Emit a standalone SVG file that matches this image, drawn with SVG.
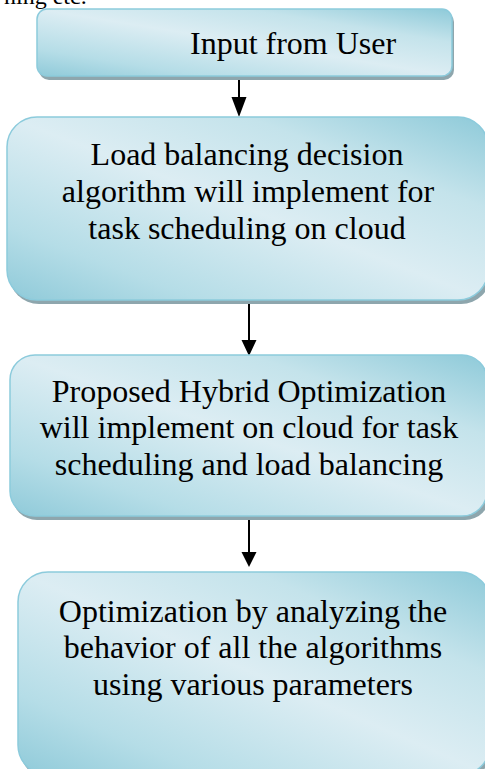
<svg xmlns="http://www.w3.org/2000/svg" width="485" height="769" viewBox="0 0 485 769">
<defs>
<linearGradient id="fill" x1="0" y1="1" x2="1" y2="0">
<stop offset="0" stop-color="#8fcad9"/>
<stop offset="0.2" stop-color="#b5dde7"/>
<stop offset="0.5" stop-color="#dcedf3"/>
<stop offset="0.75" stop-color="#c4e3eb"/>
<stop offset="1" stop-color="#8ecad9"/>
</linearGradient>
<marker id="arrow" viewBox="0 0 10 10" refX="10" refY="5" markerWidth="7.5" markerHeight="7.5" markerUnits="userSpaceOnUse" orient="auto">
<path d="M0,0 L10,5 L0,10 Z" fill="#000"/>
</marker>
</defs>
<style>
.box{fill:url(#fill);stroke:#8ccbdc;stroke-width:1.5}
.shadow{fill:#8ea6ad}
.t{font-family:"Liberation Serif","Times New Roman",serif;font-size:32px;fill:#000}
.c{text-anchor:middle}
.edge{stroke:#000;stroke-width:2;fill:none}
.head{fill:#000}
</style>
<text x="4" y="4" font-family="Liberation Serif, serif" font-size="24" fill="#000">ning etc.</text>
<g id="connectors">
<line class="edge" x1="239" y1="77" x2="239" y2="99"/>
<polygon class="head" points="231.5,97 246.5,97 239,117"/>
<line class="edge" x1="249" y1="303" x2="249" y2="342"/>
<polygon class="head" points="241.5,340 256.5,340 249,356"/>
<line class="edge" x1="249" y1="520" x2="249" y2="554"/>
<polygon class="head" points="241.5,552 256.5,552 249,567"/>
</g>
<g id="node1">
<rect class="shadow" x="39" y="12" width="415" height="68" rx="10"/>
<rect class="box" x="37" y="9" width="415" height="67" rx="10"/>
<text class="t" x="190" y="54">Input from User</text>
</g>
<g id="node2">
<rect class="shadow" x="9" y="121" width="482" height="183" rx="30"/>
<rect class="box" x="7" y="117" width="481" height="183" rx="30"/>
<text class="t c" x="247" y="165">Load balancing decision</text>
<text class="t c" x="248" y="202">algorithm will implement for</text>
<text class="t c" x="247" y="239">task scheduling on cloud</text>
</g>
<g id="node3">
<rect class="shadow" x="12" y="359" width="478" height="161" rx="25"/>
<rect class="box" x="10" y="355" width="477" height="161" rx="25"/>
<text class="t c" x="249" y="402">Proposed Hybrid Optimization</text>
<text class="t c" x="249" y="438">will implement on cloud for task</text>
<text class="t c" x="249" y="475">scheduling and load balancing</text>
</g>
<g id="node4">
<rect class="shadow" x="20" y="576" width="472" height="203" rx="30"/>
<rect class="box" x="18" y="572" width="472" height="203" rx="30"/>
<text class="t c" x="253" y="622">Optimization by analyzing the</text>
<text class="t c" x="253" y="658">behavior of all the algorithms</text>
<text class="t c" x="253" y="695">using various parameters</text>
</g>
</svg>
